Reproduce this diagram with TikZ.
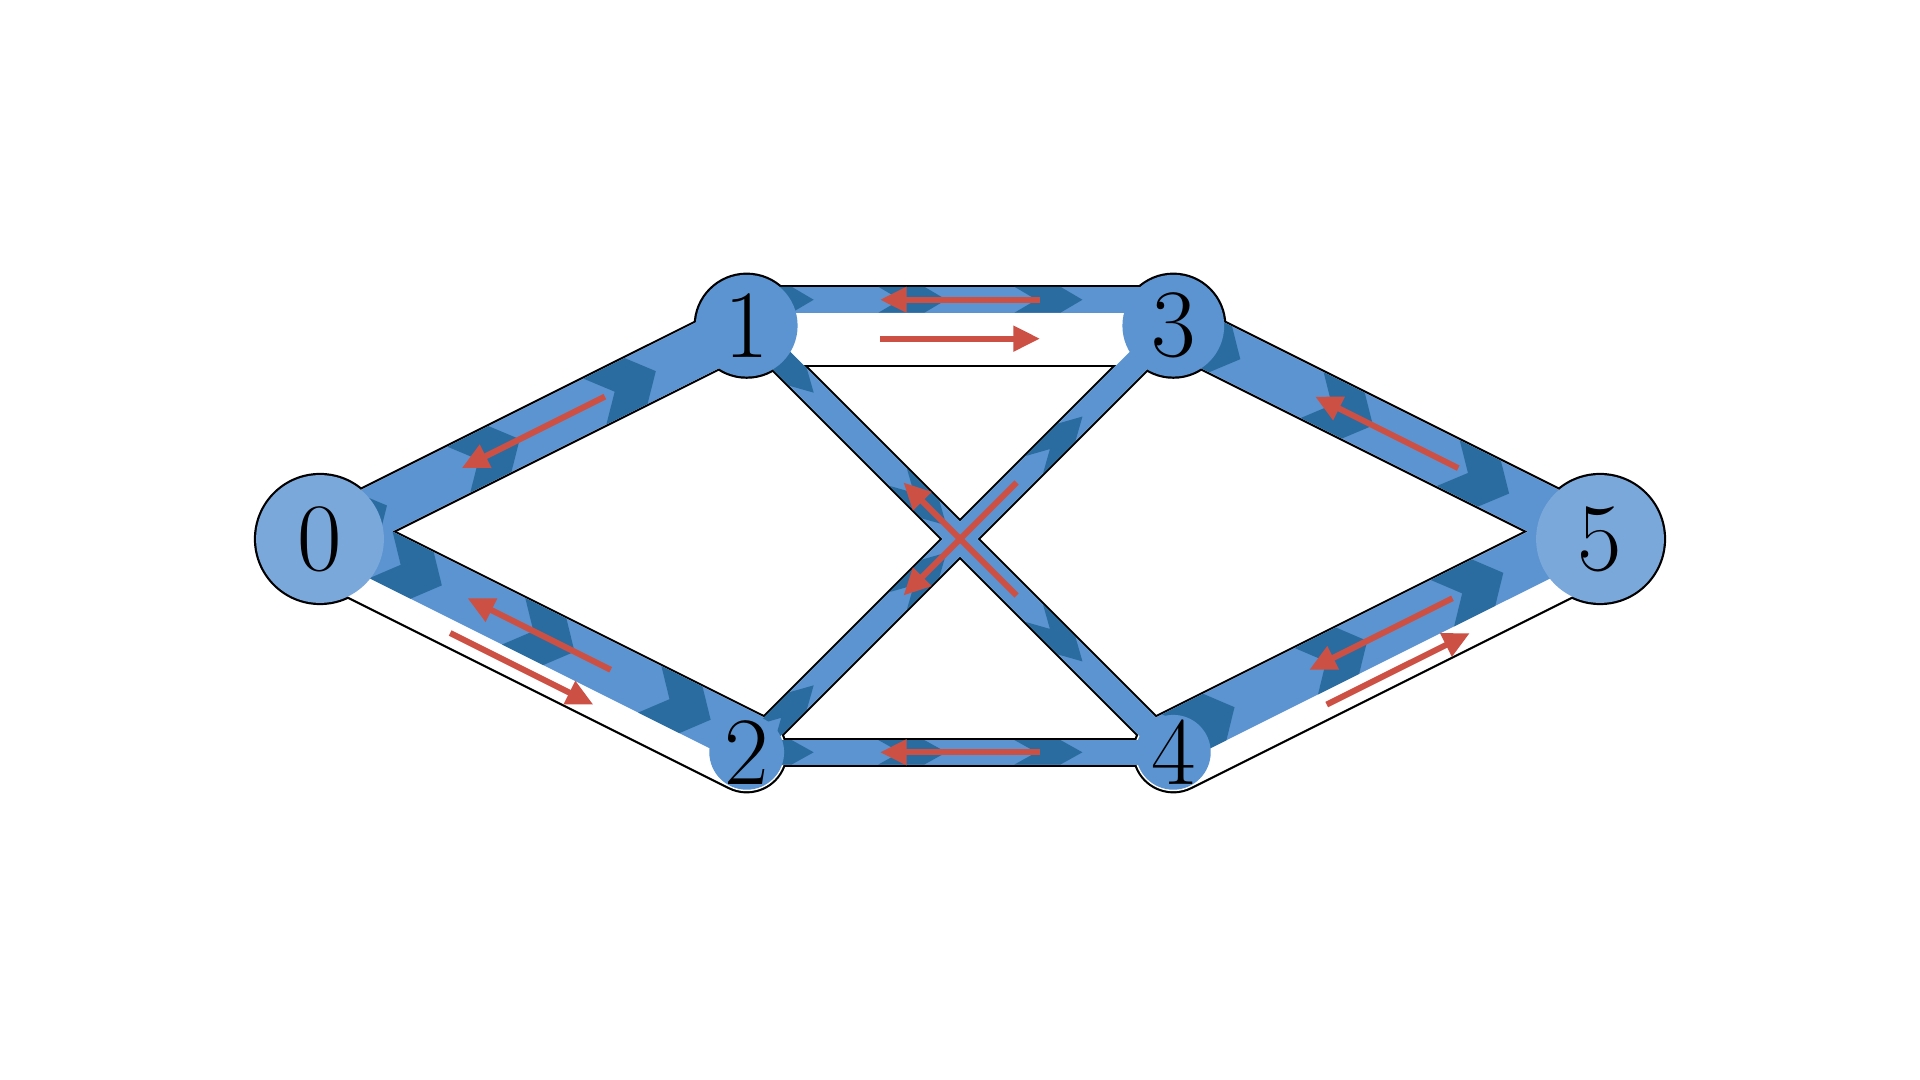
\documentclass[tikz,border=0pt]{standalone}
\usetikzlibrary{arrows.meta}
\definecolor{flowblue}{RGB}{91,148,208}
\definecolor{chevblue}{RGB}{43,108,160}
\definecolor{termblue}{RGB}{123,168,218}
\definecolor{resred}{RGB}{205,80,68}
\newcommand\Uu{7.587}
\newcommand\Lwv{0.62}
\newcommand\Dd{6.26}
\newcommand\Ll{13.09}
\newcommand\Ah{22.76}
\makeatletter
\newcommand\edgegeom[4]{%
  \pgfmathanglebetweenpoints{\pgfpointanchor{#1}{center}}{\pgfpointanchor{#2}{center}}%
  \edef\eang{\pgfmathresult}%
  \pgfpointdiff{\pgfpointanchor{#1}{center}}{\pgfpointanchor{#2}{center}}%
  \edef\eex{\the\pgf@x}\edef\eey{\the\pgf@y}%
  \pgfmathsetmacro\elen{veclen(\eex,\eey)}%
  \pgfmathsetmacro\eWi{#3*\Uu-\Lwv}%
  \pgfmathsetmacro\etop{\eWi/2}%
  \pgfmathsetmacro\ebot{\eWi/2-#4*\eWi/#3}%
  \pgfmathsetmacro\etz{(\etop+\ebot)/2}%
  \pgfmathsetmacro\eh{(\etop-\ebot)/2}%
  \pgfmathsetmacro\ewc{(\ebot-\eWi/2)/2}%
}
\makeatother
\newcommand\flowband[5]{%
  \edgegeom{#1}{#2}{#3}{#4}%
  \begin{scope}[shift={(#1.center)}, rotate=\eang]
    \fill[flowblue] ({0pt},{\ebot*1pt}) rectangle ({\elen*1pt},{\etop*1pt});
    \foreach \fr in {0.157,0.468,0.787}{
      \pgfmathsetmacro\es{\fr*\elen+#5}
      \fill[chevblue] ({(\es-\Dd-\Ll)*1pt},{(\etz-\eh)*1pt}) -- ({(\es-\Dd)*1pt},{(\etz-\eh)*1pt})
        -- ({\es*1pt},{\etz*1pt}) -- ({(\es-\Dd)*1pt},{(\etz+\eh)*1pt})
        -- ({(\es-\Dd-\Ll)*1pt},{(\etz+\eh)*1pt}) -- ({(\es-\Ll)*1pt},{\etz*1pt}) -- cycle;
    }
  \end{scope}}
\newcommand\resarrows[4]{%
  \edgegeom{#1}{#2}{#3}{#4}%
  \begin{scope}[shift={(#1.center)}, rotate=\eang]
    \draw[resarrow] ({(\elen/2+\Ah)*1pt},{\etz*1pt}) -- ({(\elen/2-\Ah)*1pt},{\etz*1pt});
    \ifdim #4pt<#3pt
      \draw[resarrow] ({(\elen/2-\Ah)*1pt},{\ewc*1pt}) -- ({(\elen/2+\Ah)*1pt},{\ewc*1pt});
    \fi
  \end{scope}}
\tikzset{
  nodering/.style={circle, fill=black, inner sep=0pt, draw=none},
  pipeout/.style={line cap=round, draw=black},
  pipein/.style={line cap=round, draw=white},
  lab/.style={font=\fontsize{27.5}{30}\selectfont, inner sep=0pt},
  resarrow/.style={draw=resred, line width=1.71pt, -{Triangle[length=7.6pt,width=7pt]}},
}
\begin{document}
\begin{tikzpicture}
\useasboundingbox (0,0) rectangle (19.2,10.8);
\fill[white] (0,0) rectangle (19.2,10.8);
% node outlines
\node[nodering, minimum size=1.322cm] (n0) at (3.200,5.410) {};
\node[nodering, minimum size=1.062cm] (n1) at (7.467,7.543) {};
\node[nodering, minimum size=0.792cm] (n2) at (7.467,3.277) {};
\node[nodering, minimum size=1.062cm] (n3) at (11.733,7.543) {};
\node[nodering, minimum size=0.792cm] (n4) at (11.733,3.277) {};
\node[nodering, minimum size=1.322cm] (n5) at (16.000,5.410) {};
% pipes
\foreach \a/\b/\w in {n0/n1/2, n0/n2/3, n1/n3/3, n1/n4/1, n2/n3/1, n2/n4/1, n3/n5/2, n4/n5/3}
  \draw[pipeout, line width={\w*\Uu*1pt+\Lwv*1pt}] (\a.center) -- (\b.center);
\foreach \a/\b/\w in {n0/n1/2, n0/n2/3, n1/n3/3, n1/n4/1, n2/n3/1, n2/n4/1, n3/n5/2, n4/n5/3}
  \draw[pipein, line width={\w*\Uu*1pt-\Lwv*1pt}] (\a.center) -- (\b.center);
% flow bands
\foreach \a/\b/\w/\f/\ph in {n0/n1/2/2/0, n0/n2/3/2/15.6, n1/n3/3/1/0, n1/n4/1/1/0, n2/n3/1/1/0, n2/n4/1/1/0, n3/n5/2/2/0, n4/n5/3/2/0}
  {\flowband{\a}{\b}{\w}{\f}{\ph}}
% node fills and labels
\fill[termblue] (n0.center) circle (0.639cm);
\fill[flowblue] (n1.center) circle (0.509cm);
\fill[flowblue] (n2.center) circle (0.374cm);
\fill[flowblue] (n3.center) circle (0.509cm);
\fill[flowblue] (n4.center) circle (0.374cm);
\fill[termblue] (n5.center) circle (0.639cm);
\node[lab] (l0) at (n0.center) {0};
\node[lab] (l1) at (n1.center) {1};
\node[lab] (l2) at (n2.center) {2};
\node[lab] (l3) at (n3.center) {3};
\node[lab] (l4) at (n4.center) {4};
\node[lab] (l5) at (n5.center) {5};
% residual arrows
\foreach \a/\b/\w/\f in {n0/n1/2/2, n0/n2/3/2, n1/n3/3/1, n1/n4/1/1, n2/n3/1/1, n2/n4/1/1, n3/n5/2/2, n4/n5/3/2}
  {\resarrows{\a}{\b}{\w}{\f}}
\end{tikzpicture}
\end{document}
